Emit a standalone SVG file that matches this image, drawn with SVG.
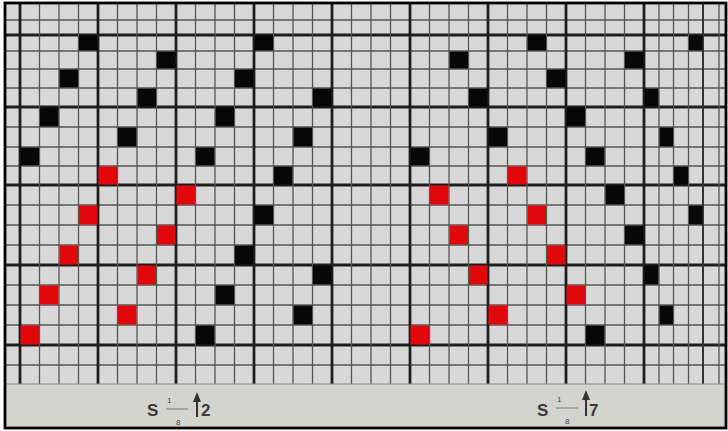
<svg xmlns="http://www.w3.org/2000/svg" width="728" height="431" viewBox="0 0 728 431">
<style>
.thin{stroke:#555;stroke-width:1.3;fill:none}
.thick{stroke:#1e1e1e;stroke-width:2.8;fill:none}
.blk{fill:#070707}
.red{fill:#e0080a}
.lbl{font-family:"Liberation Sans",Arial,sans-serif;font-weight:bold;fill:#3a3a3a}
.frac{font-family:"Liberation Sans",Arial,sans-serif;fill:#444;font-size:8px}
</style>
<rect x="0" y="0" width="728" height="431" fill="#ffffff"/>
<rect x="5" y="3" width="721" height="381" fill="#d8d8d8"/>
<rect x="5" y="384" width="721" height="44" fill="#d4d4ce"/>
<g id="grid">
<path class="thin" d="M5 20H726M5 51H726M5 69H726M5 88H726M5 127H726M5 147H726M5 166H726M5 205H726M5 225H726M5 245H726M5 285H726M5 305H726M5 325H726M5 365H726"/>
<path class="thick" d="M5 35H726M5 107H726M5 185H726M5 265H726M5 345H726"/>
<path class="thin" d="M39.5 3V384M59 3V384M78.5 3V384M117.5 3V384M137 3V384M156.5 3V384M195.5 3V384M215 3V384M234.5 3V384M273.5 3V384M293 3V384M312.5 3V384M351.5 3V384M371 3V384M390.5 3V384M429.5 3V384M449 3V384M468.5 3V384M507.5 3V384M527 3V384M546.5 3V384M585.5 3V384M605 3V384M624.5 3V384M659 3V384M673.5 3V384M688.5 3V384M719 3V384"/>
<path class="thick" d="M20 3V384M98 3V384M176 3V384M254 3V384M332 3V384M410 3V384M488 3V384M566 3V384M644 3V384"/>
<path d="M703 3V384" stroke="#333" stroke-width="2" fill="none"/>
<path d="M5 384H726" stroke="#8a8a8a" stroke-width="1" fill="none"/>
</g>
<g id="black-cells">
<rect class="blk" x="79" y="35.5" width="18.5" height="15"/>
<rect class="blk" x="59.5" y="69.5" width="18.5" height="18"/>
<rect class="blk" x="40" y="107.5" width="18.5" height="19"/>
<rect class="blk" x="20.5" y="147.5" width="18.5" height="18"/>
<rect class="blk" x="157" y="51.5" width="18.5" height="17"/>
<rect class="blk" x="137.5" y="88.5" width="18.5" height="18"/>
<rect class="blk" x="118" y="127.5" width="18.5" height="19"/>
<rect class="blk" x="254.5" y="35.5" width="18.5" height="15"/>
<rect class="blk" x="235" y="69.5" width="18.5" height="18"/>
<rect class="blk" x="215.5" y="107.5" width="18.5" height="19"/>
<rect class="blk" x="196" y="147.5" width="18.5" height="18"/>
<rect class="blk" x="313" y="88.5" width="18.5" height="18"/>
<rect class="blk" x="293.5" y="127.5" width="18.5" height="19"/>
<rect class="blk" x="274" y="166.5" width="18.5" height="18"/>
<rect class="blk" x="254.5" y="205.5" width="18.5" height="19"/>
<rect class="blk" x="235" y="245.5" width="18.5" height="19"/>
<rect class="blk" x="215.5" y="285.5" width="18.5" height="19"/>
<rect class="blk" x="196" y="325.5" width="18.5" height="19"/>
<rect class="blk" x="313" y="265.5" width="18.5" height="19"/>
<rect class="blk" x="293.5" y="305.5" width="18.5" height="19"/>
<rect class="blk" x="410.5" y="147.5" width="18.5" height="18"/>
<rect class="blk" x="449.5" y="51.5" width="18.5" height="17"/>
<rect class="blk" x="469" y="88.5" width="18.5" height="18"/>
<rect class="blk" x="488.5" y="127.5" width="18.5" height="19"/>
<rect class="blk" x="586" y="325.5" width="18.5" height="19"/>
<rect class="blk" x="527.5" y="35.5" width="18.5" height="15"/>
<rect class="blk" x="547" y="69.5" width="18.5" height="18"/>
<rect class="blk" x="566.5" y="107.5" width="18.5" height="19"/>
<rect class="blk" x="586" y="147.5" width="18.5" height="18"/>
<rect class="blk" x="605.5" y="185.5" width="18.5" height="19"/>
<rect class="blk" x="625" y="225.5" width="18.5" height="19"/>
<rect class="blk" x="644.5" y="265.5" width="14" height="19"/>
<rect class="blk" x="659.5" y="305.5" width="13.5" height="19"/>
<rect class="blk" x="625" y="51.5" width="18.5" height="17"/>
<rect class="blk" x="644.5" y="88.5" width="14" height="18"/>
<rect class="blk" x="659.5" y="127.5" width="13.5" height="19"/>
<rect class="blk" x="674" y="166.5" width="14" height="18"/>
<rect class="blk" x="689" y="205.5" width="13.5" height="19"/>
<rect class="blk" x="689" y="35.5" width="13.5" height="15"/>
</g>
<g id="red-cells">
<rect class="red" x="98.5" y="166.5" width="18.5" height="18"/>
<rect class="red" x="79" y="205.5" width="18.5" height="19"/>
<rect class="red" x="59.5" y="245.5" width="18.5" height="19"/>
<rect class="red" x="40" y="285.5" width="18.5" height="19"/>
<rect class="red" x="20.5" y="325.5" width="18.5" height="19"/>
<rect class="red" x="176.5" y="185.5" width="18.5" height="19"/>
<rect class="red" x="157" y="225.5" width="18.5" height="19"/>
<rect class="red" x="137.5" y="265.5" width="18.5" height="19"/>
<rect class="red" x="118" y="305.5" width="18.5" height="19"/>
<rect class="red" x="430" y="185.5" width="18.5" height="19"/>
<rect class="red" x="449.5" y="225.5" width="18.5" height="19"/>
<rect class="red" x="469" y="265.5" width="18.5" height="19"/>
<rect class="red" x="488.5" y="305.5" width="18.5" height="19"/>
<rect class="red" x="508" y="166.5" width="18.5" height="18"/>
<rect class="red" x="527.5" y="205.5" width="18.5" height="19"/>
<rect class="red" x="547" y="245.5" width="18.5" height="19"/>
<rect class="red" x="566.5" y="285.5" width="18.5" height="19"/>
<rect class="red" x="410.5" y="325.5" width="18.5" height="19"/>
</g>
<g id="label-left">
<text class="lbl" x="147" y="416" font-size="17">S</text>
<text class="frac" x="167" y="403">1</text>
<path d="M166 409H188" stroke="#777" stroke-width="1"/>
<text class="frac" x="176" y="425">8</text>
<path d="M197 417V399" stroke="#333" stroke-width="2"/>
<polygon points="193,402 197,392 201,402" fill="#333"/>
<text class="lbl" x="201" y="416" font-size="17">2</text>
</g>
<g id="label-right">
<text class="lbl" x="537" y="416" font-size="17">S</text>
<text class="frac" x="557" y="402">1</text>
<path d="M556 408H578" stroke="#777" stroke-width="1"/>
<text class="frac" x="565" y="424">8</text>
<path d="M586 416V397" stroke="#333" stroke-width="2"/>
<polygon points="582,400 586,390 590,400" fill="#333"/>
<text class="lbl" x="589" y="416" font-size="17">7</text>
</g>
<rect x="5" y="3" width="721" height="425" fill="none" stroke="#000" stroke-width="2.8"/>
</svg>
